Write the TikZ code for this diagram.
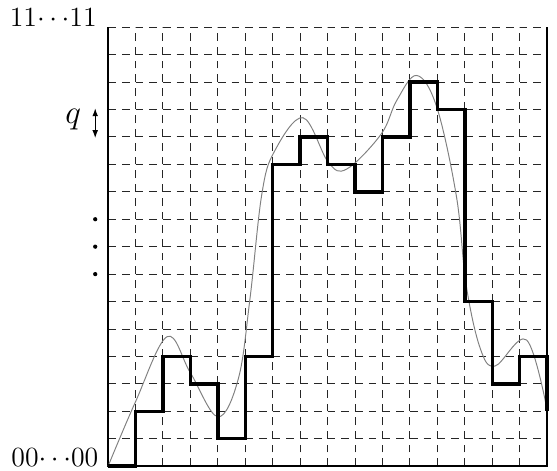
\documentclass[tikz,border=0pt]{standalone}
\usepackage{amsmath}
\usepackage{amssymb}
\usetikzlibrary{arrows.meta, calc}

\begin{document}
\begin{tikzpicture}[x=5mm, y=5mm]
    \tikzset{
        gridline/.style={black!85, line width=0.5pt, dash pattern=on 4pt off 3.113pt},
        frame/.style={black, line width=0.8pt},
        stairs/.style={black, line width=1.8pt, line join=miter},
        curve/.style={gray, line width=0.5pt},
        lbl/.style={inner sep=0pt, font=\fontsize{15}{18}\selectfont},
        qlbl/.style={inner sep=0pt, font=\fontsize{17}{20}\selectfont},
        dblarrow/.style={line width=0.7pt, {Latex[length=4.2pt,width=3pt]}-{Latex[length=4.2pt,width=3pt]}}
    }
    \useasboundingbox (-3.94,-0.15) rectangle (16.36,16.99);
    % dashed grid
    \foreach \i in {1,...,15}
        \draw[gridline] (\i,0) -- (\i,16);
    \foreach \j in {1,...,16}
        \draw[gridline] (0,\j) -- (16,\j);
    \draw[frame] (0,16) -- (0,0) -- (16,0) -- (16,16);
    % signal and its quantised version
    \draw[curve] plot[smooth, tension=0.6] coordinates {
        (0,0) (1,2.35) (2.15,4.72) (3,3.4) (4,1.8) (4.75,3.2) (5.17,6.1)
        (5.6,9.9) (6.05,11.45) (7.1,12.7) (8.03,11.07) (8.7,10.83)
        (9.95,12.1) (10.52,13.33) (11.25,14.24) (11.98,13.08) (12.7,9.8)
        (13.05,6.6) (13.56,4.3) (14.1,3.65) (15.25,4.6) (16,2.05)};
    \draw[stairs] (0,0)
        \foreach \v [count=\i from 0] in {0,2,4,3,1,4,11,12,11,10,12,14,13,6,3,4}
            { -- (\i,\v) -- (\i+1,\v) } -- (16,2);
    % labels
    \node[lbl] (top) at (-2.0,16.35) {$11{\cdots}11$};
    \node[lbl] (bot) at (-1.94,0.33) {$00{\cdots}00$};
    \node[qlbl] (q) at (-1.27,12.63) {$q$};
    \coordinate (qtop) at (-0.47,13.05);
    \coordinate (qbot) at (-0.47,11.95);
    \draw[dblarrow] (qbot) -- (qtop);
    \foreach \k in {7,8,9}
        \fill (-0.47,\k) circle (1.1pt);
\end{tikzpicture}
\end{document}
